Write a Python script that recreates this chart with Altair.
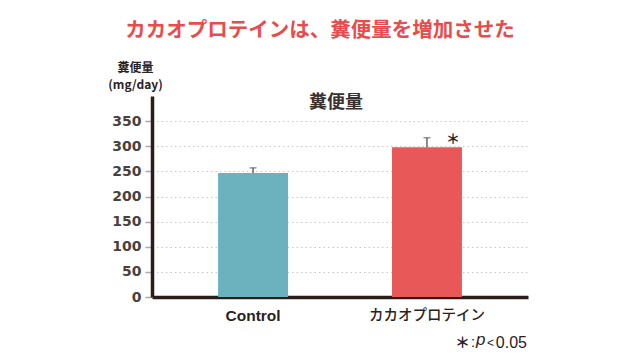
import altair as alt
import pandas as pd

categories = ["Control", "カカオプロテイン"]
values = [247, 298]
errors = [10, 19]
colors = ["#6cb2be", "#e85858"]
sig = ["", "＊"]
y_ticks = [0, 50, 100, 150, 200, 250, 300, 350]

df = pd.DataFrame({
    "cat": categories,
    "value": values,
    "upper": [v + e for v, e in zip(values, errors)],
    "color": colors,
    "sig": sig,
})

FONT = "Liberation Sans, Noto Sans CJK JP, sans-serif"
JP = "Noto Sans CJK JP, Liberation Sans, sans-serif"
W, H = 376, 201

x_axis = alt.Axis(title=None, labelAngle=0,
                  labelFontSize={"condition": {"test": "datum.value == 'Control'", "value": 15.5},
                                 "value": 14.5},
                  labelFont=FONT,
                  labelFontWeight={"condition": {"test": "datum.value == 'Control'", "value": "bold"},
                                   "value": 500},
                  labelColor="#2b221f", labelPadding=11,
                  ticks=False, domainColor="#2b1d18", domainWidth=3.5, grid=False)
x_scale = alt.Scale(paddingInner=0.598, paddingOuter=0.38)

y_axis = alt.Axis(values=y_ticks, title=["糞便量", "(mg/day)"],
                  titleAngle=0, titleAlign="center", titleBaseline="middle",
                  titleX=-17, titleY=-29, titleFontSize=12, titleFont=JP,
                  titleFontWeight="bold", titleColor="#2b221f", titleLineHeight=17,
                  labelFontSize=14, labelFontWeight="bold", labelFont="DejaVu Sans",
                  labelColor="#4a403d", labelPadding=4, labelOverlap=False,
                  tickSize=7, tickColor="#aaaaaa", tickWidth=1.5,
                  domainColor="#2b1d18", domainWidth=3.5,
                  grid=True, gridColor="#c8c8c8", gridDash=[1.5, 3], gridWidth=1)
y_scale = alt.Scale(domain=[0, 400], nice=False)


def X():
    return alt.X("cat:N", sort=categories, scale=x_scale, axis=x_axis)


def Y(field):
    return alt.Y(field, type="quantitative", scale=y_scale, axis=y_axis)


base = alt.Chart(df)

bars = base.mark_bar().encode(
    x=X(), y=Y("value"),
    color=alt.Color("color:N", scale=None),
)
err = base.mark_rule(color="#666666", strokeWidth=1.5).encode(
    x=X(), y=Y("value"), y2="upper:Q")
caps = base.mark_tick(orient="horizontal", color="#666666", size=7, thickness=1.5).encode(
    x=X(), y=Y("upper"))
stars = base.mark_text(dx=26, dy=2, fontSize=14, font=JP, fontWeight="bold",
                       color="#2b221f").encode(
    x=X(), y=Y("upper"), text="sig:N")

title = alt.Chart(pd.DataFrame({"t": ["カカオプロテインは、糞便量を増加させた"]})).mark_text(
    fontSize=20.5, fontWeight="bold", font=JP, color="#e84c4c",
    align="center", baseline="middle").encode(
    x=alt.value(168), y=alt.value(-65), text="t:N")
subtitle = alt.Chart(pd.DataFrame({"t": ["糞便量"]})).mark_text(
    fontSize=18, fontWeight="bold", font=JP, color="#3a302d",
    align="center", baseline="middle").encode(
    x=alt.value(184), y=alt.value(7), text="t:N")

note1 = alt.Chart(pd.DataFrame({"t": ["＊"]})).mark_text(
    fontSize=15, font=JP, fontWeight="bold", color="#2b221f",
    align="left", baseline="middle").encode(
    x=alt.value(303), y=alt.value(247), text="t:N")
note1b = alt.Chart(pd.DataFrame({"t": [":"]})).mark_text(
    fontSize=15, font=FONT, color="#2b221f", align="center", baseline="middle").encode(
    x=alt.value(321), y=alt.value(246), text="t:N")
note2 = alt.Chart(pd.DataFrame({"t": ["p"]})).mark_text(
    fontSize=17, font=FONT, fontStyle="italic", color="#2b221f",
    align="left", baseline="middle").encode(
    x=alt.value(324), y=alt.value(244), text="t:N")
note3 = alt.Chart(pd.DataFrame({"t": ["<"]})).mark_text(
    fontSize=12, font=FONT, color="#2b221f", align="left", baseline="middle").encode(
    x=alt.value(335), y=alt.value(247), text="t:N")
note4 = alt.Chart(pd.DataFrame({"t": ["0.05"]})).mark_text(
    fontSize=16, font=FONT, color="#2b221f", align="right", baseline="middle").encode(
    x=alt.value(375), y=alt.value(247), text="t:N")

chart = alt.layer(bars, err, caps, stars, title, subtitle,
                  note1, note1b, note2, note3, note4).properties(
    width=W, height=H,
    autosize=alt.AutoSizeParams(type="none"),
    padding={"left": 144, "top": 88, "right": 104, "bottom": 55},
).configure(background="white").configure_view(stroke=None)

chart.save("out.html", embed_options={"renderer": "svg", "actions": False})
